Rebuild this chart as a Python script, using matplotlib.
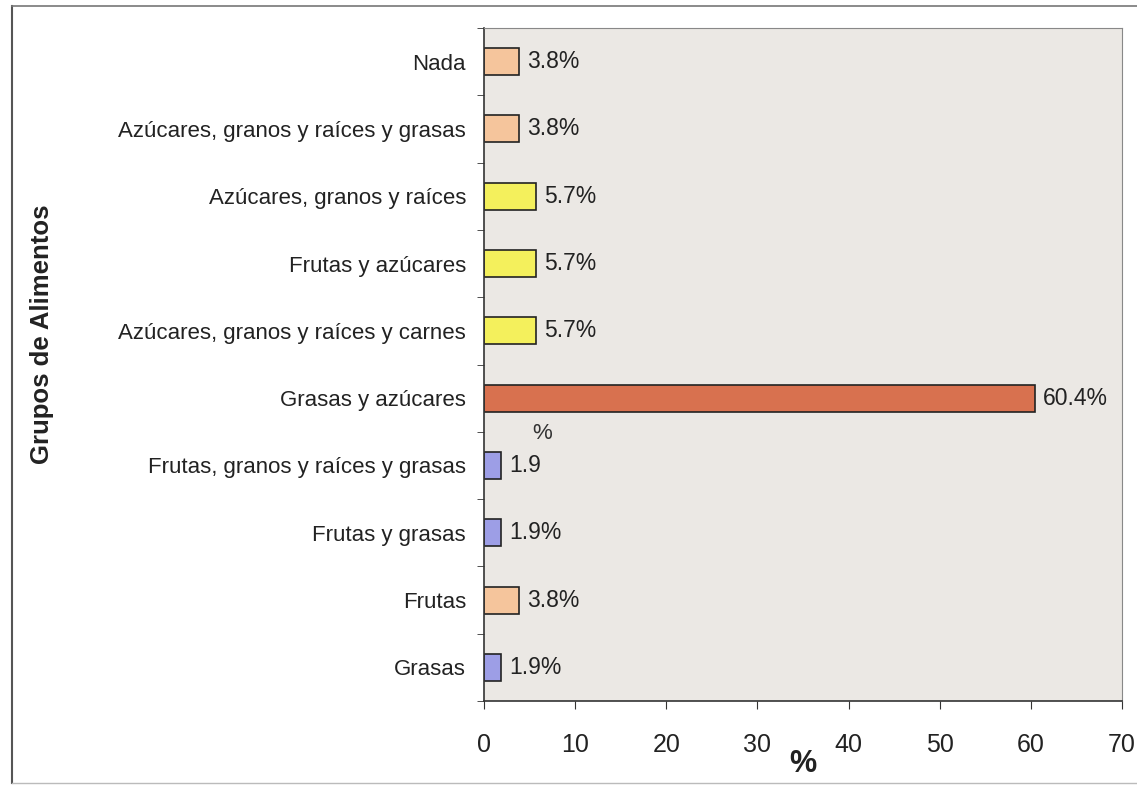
import matplotlib.pyplot as plt
from matplotlib.lines import Line2D

plt.rcParams['font.family'] = ['Liberation Sans', 'DejaVu Sans']

# categories, bottom to top
categorias = ["Grasas", "Frutas", "Frutas y grasas", "Frutas, granos y raíces y grasas",
              "Grasas y azúcares", "Azúcares, granos y raíces y carnes", "Frutas y azúcares",
              "Azúcares, granos y raíces", "Azúcares, granos y raíces y grasas", "Nada"]
valores = [1.9, 3.8, 1.9, 1.9, 60.4, 5.7, 5.7, 5.7, 3.8, 3.8]
etiquetas = ["1.9%", "3.8%", "1.9%", "1.9", "60.4%", "5.7%", "5.7%", "5.7%", "3.8%", "3.8%"]
colores = ["#9d9ee6", "#f5c59c", "#9d9ee6", "#9d9ee6", "#d8714f",
           "#f4f05c", "#f4f05c", "#f4f05c", "#f5c59c", "#f5c59c"]
xticks = [0, 10, 20, 30, 40, 50, 60, 70]

fig = plt.figure(figsize=(11.37, 7.87), dpi=100)
ax = fig.add_axes([484/1137, 1-701/787, 638/1137, 673/787])
ax.set_facecolor("#ebe8e4")

y = list(range(len(categorias)))
ax.barh(y, valores, height=0.4, color=colores, edgecolor="#222222", linewidth=1.2)

for yi, v, t in zip(y, valores, etiquetas):
    ax.text(v + 0.9, yi, t, va="center", ha="left", fontsize=16.5, color="#222222")
# stray "%" above the 1.9 label, as in the original
ax.text(6.4, 3.47, "%", va="center", ha="center", fontsize=16, color="#333333")

ax.set_xlim(0, 70)
ax.set_ylim(-0.5, len(categorias) - 0.5)
ax.set_xticks(xticks)
ax.set_xticklabels([str(t) for t in xticks], fontsize=18, color="#222222")
ax.set_yticks(y)
ax.set_yticklabels(categorias, fontsize=16, color="#222222")
ax.set_yticks([i - 0.5 for i in range(len(categorias) + 1)], minor=True)
ax.tick_params(axis="y", which="major", length=0, pad=13)
ax.tick_params(axis="y", which="minor", length=5, direction="out", color="#333333")
ax.tick_params(axis="x", length=6, direction="out", pad=17, color="#333333")

for s in ["top", "right"]:
    ax.spines[s].set_color("#888888")
for s in ["left", "bottom"]:
    ax.spines[s].set_color("#333333")
    ax.spines[s].set_linewidth(1.2)

ax.set_xlabel("%", fontsize=22, fontweight="bold", labelpad=-6, color="#222222")
fig.text(42/1137, 1 - 334/787, "Grupos de Alimentos", rotation=90, va="center",
         ha="center", fontsize=18.5, fontweight="bold", color="#222222")

# outer chart border
fig.add_artist(Line2D([12/1137, 12/1137], [1-783/787, 1-6/787], color="#555555", lw=1.5))
fig.add_artist(Line2D([12/1137, 1], [1-6/787, 1-6/787], color="#777777", lw=1.2))
fig.add_artist(Line2D([12/1137, 1], [1-783/787, 1-783/787], color="#bbbbbb", lw=1.0))

fig.savefig("out.png", dpi=100)
plt.close(fig)
